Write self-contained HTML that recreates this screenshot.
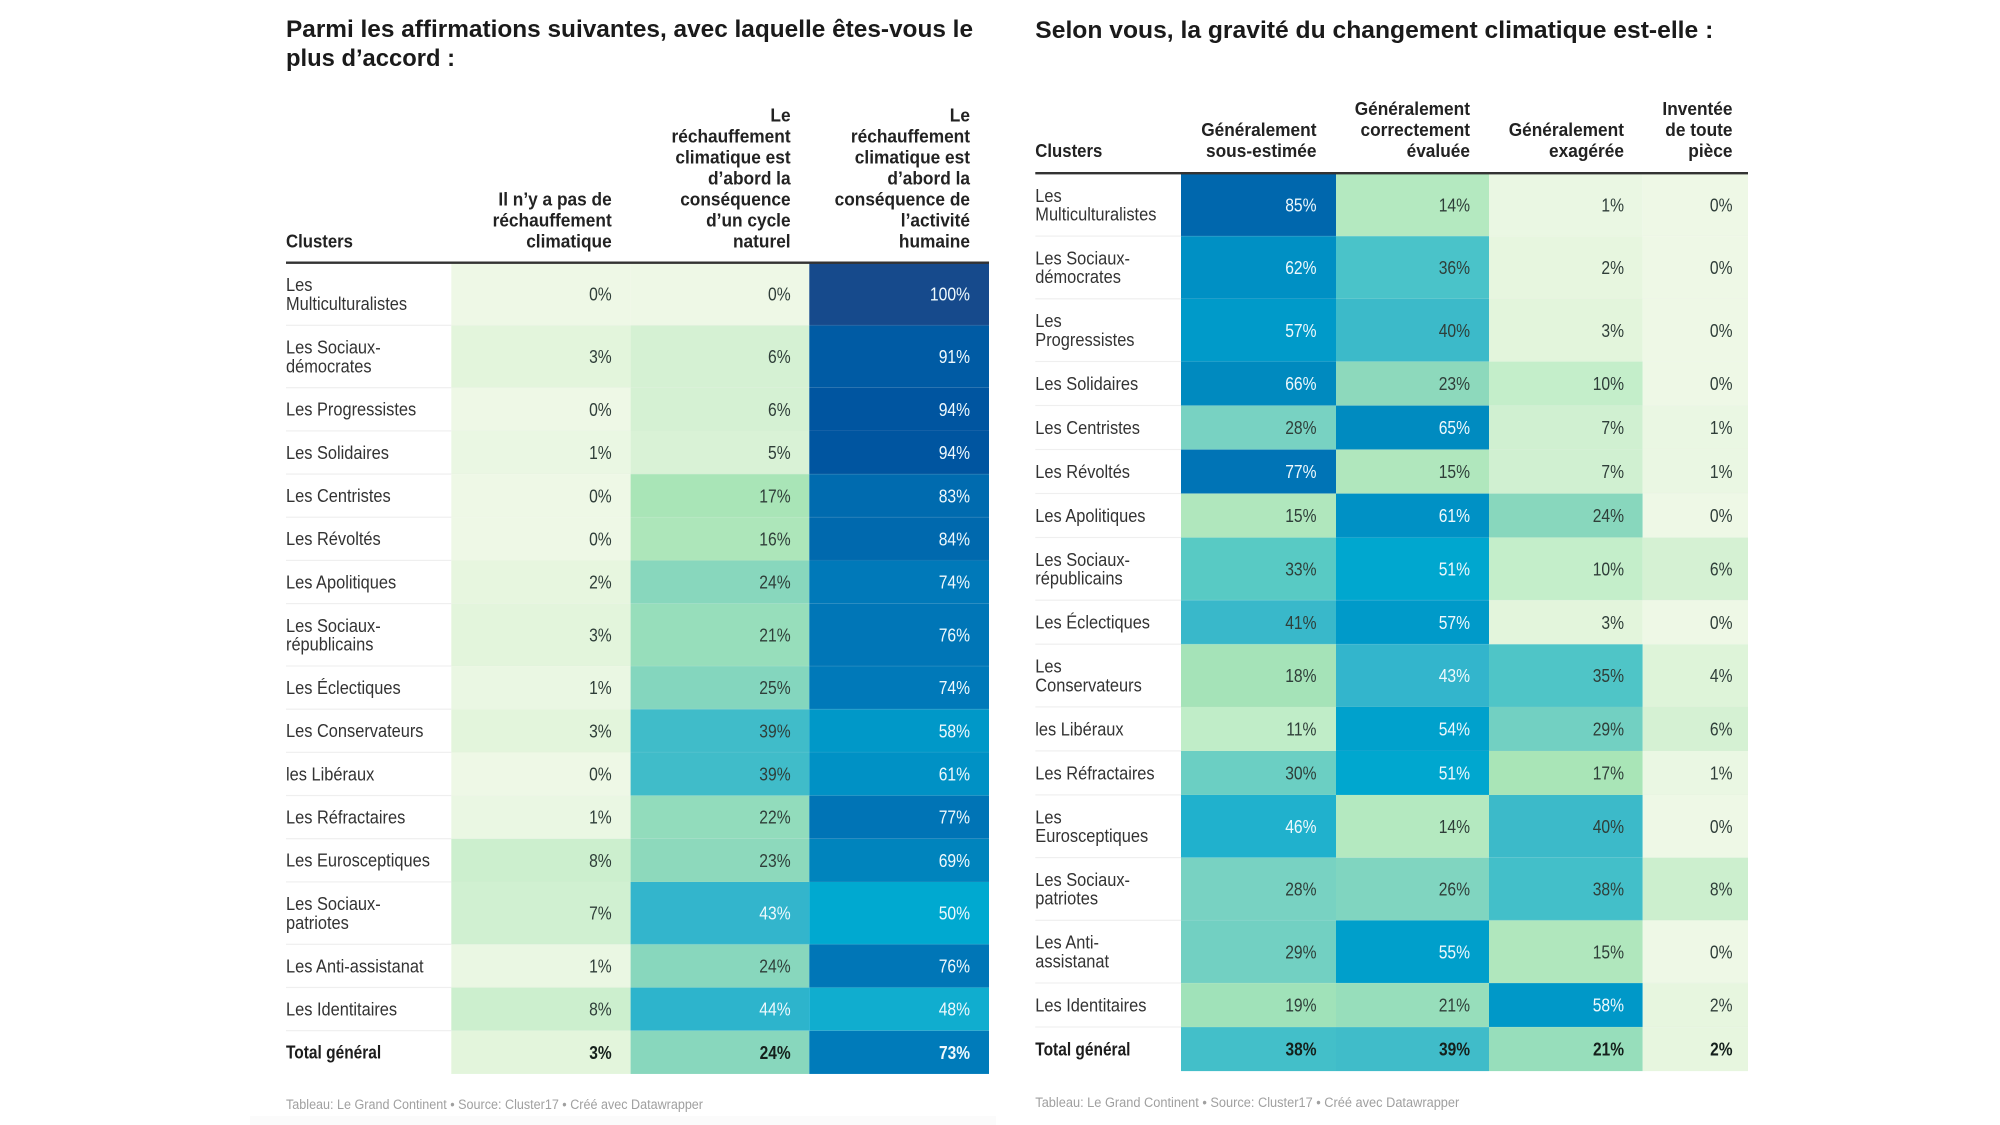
<!DOCTYPE html>
<html lang="fr">
<head>
<meta charset="utf-8">
<title>Changement climatique – clusters</title>
<style>
html,body{margin:0;padding:0;background:#fff;width:2000px;height:1125px;overflow:hidden}
svg{display:block}
text{font-family:"Liberation Sans",Arial,sans-serif}
</style>
</head>
<body>
<svg id="chart" xmlns="http://www.w3.org/2000/svg" width="2000" height="1125" viewBox="0 0 2000 1125">
<rect x="250" y="1116" width="746" height="9" fill="#fbfbfb"/>
</svg>
<script>
// ---- shared data ----
const clustersLeft = ["Les|Multiculturalistes","Les Sociaux-|démocrates","Les Progressistes","Les Solidaires","Les Centristes","Les Révoltés","Les Apolitiques","Les Sociaux-|républicains","Les Éclectiques","Les Conservateurs","les Libéraux","Les Réfractaires","Les Eurosceptiques","Les Sociaux-|patriotes","Les Anti-assistanat","Les Identitaires","Total général"];
const clustersRight = ["Les|Multiculturalistes","Les Sociaux-|démocrates","Les|Progressistes","Les Solidaires","Les Centristes","Les Révoltés","Les Apolitiques","Les Sociaux-|républicains","Les Éclectiques","Les|Conservateurs","les Libéraux","Les Réfractaires","Les|Eurosceptiques","Les Sociaux-|patriotes","Les Anti-|assistanat","Les Identitaires","Total général"];

// ---- left table ----
const titleLeft = ["Parmi les affirmations suivantes, avec laquelle êtes-vous le","plus d’accord :"];
const headersLeft = ["Il n’y a pas de|réchauffement|climatique","Le|réchauffement|climatique est|d’abord la|conséquence|d’un cycle|naturel","Le|réchauffement|climatique est|d’abord la|conséquence de|l’activité|humaine"];
const leftNoWarming = [0,3,0,1,0,0,2,3,1,3,0,1,8,7,1,8,3];
const leftNatural = [0,6,6,5,17,16,24,21,25,39,39,22,23,43,24,44,24];
const leftHuman = [100,91,94,94,83,84,74,76,74,58,61,77,69,50,76,48,73];

// ---- right table ----
const titleRight = ["Selon vous, la gravité du changement climatique est-elle :"];
const headersRight = ["Généralement|sous-estimée","Généralement|correctement|évaluée","Généralement|exagérée","Inventée|de toute|pièce"];
const rightUnder = [85,62,57,66,28,77,15,33,41,18,11,30,46,28,29,19,38];
const rightCorrect = [14,36,40,23,65,15,61,51,57,43,54,51,14,26,55,21,39];
const rightExagg = [1,2,3,10,7,7,24,10,3,35,29,17,40,38,15,58,21];
const rightInvented = [0,0,0,0,1,1,0,6,0,4,6,1,0,8,0,2,2];

const sourceLine = "Tableau: Le Grand Continent • Source: Cluster17 • Créé avec Datawrapper";

// colour ramp: value -> colour
const rampValues = [0,3,5,8,11,15,17,21,24,28,33,36,40,43,46,50,55,61,66,74,84,94,100];
const rampColors = ["#eef8e6","#e3f5dc","#d9f2d6","#ccefce","#c0edc8","#b0e7bd","#a9e5b7","#97debb","#88d7bd","#78d2c2","#58cac4","#4ac3c9","#3cbac9","#33b5cc","#20b1cd","#00a9d0","#009fcb","#0091c5","#008abf","#0079b9","#0069ae","#0055a0","#164a8c"];

const svg = document.getElementById('chart');
const NS = 'http://www.w3.org/2000/svg';

function hexRgb(h){return [1,3,5].map(i=>parseInt(h.substr(i,2),16));}
function colorFor(v){
  let i = 0;
  while(i < rampValues.length-2 && v > rampValues[i+1]) i++;
  const t = Math.max(0,Math.min(1,(v-rampValues[i])/(rampValues[i+1]-rampValues[i])));
  const a = hexRgb(rampColors[i]), b = hexRgb(rampColors[i+1]);
  return 'rgb('+a.map((c,k)=>Math.round(c+(b[k]-c)*t)).join(',')+')';
}
function textColorFor(v){return v>=43 ? '#eef9fd' : '#2f3e39';}

// squeezes the Liberation glyphs to the narrower width of the reference face
function addText(str,x,y,size,weight,fill,anchor,squeeze,fitWidth){
  const t = document.createElementNS(NS,'text');
  t.textContent = str;
  t.setAttribute('x',x);
  t.setAttribute('y',y);
  t.setAttribute('font-size',size);
  t.setAttribute('font-weight',weight);
  t.setAttribute('fill',fill);
  t.setAttribute('text-anchor',anchor);
  svg.appendChild(t);
  const w = fitWidth || t.getComputedTextLength()*squeeze;
  t.setAttribute('textLength',w.toFixed(1));
  t.setAttribute('lengthAdjust','spacingAndGlyphs');
  return t;
}

function drawTable(cfg){
  // titles
  cfg.title.forEach((line,i)=>{
    const t = addText(line,cfg.x0,cfg.titleY+i*29,24.5,700,'#1a1a1a','start',1,cfg.titleWidths[i]);
    
    
  });
  // header cells
  const hBase = cfg.lineY-cfg.headerGap;
  const hc = addText('Clusters',cfg.x0,hBase,18,700,'#222','start',.93);
  
  
  cfg.headers.forEach((h,c)=>{
    const lines = h.split('|');
    lines.forEach((ln,i)=>{
      const t = addText(ln,cfg.textX[c],hBase-(lines.length-1-i)*21,18,700,'#222','end',.96);
      
      
    });
  });
  // rows
  let y = cfg.lineY;
  const right = cfg.colX[cfg.colX.length-1];
  cfg.clusters.forEach((label,r)=>{
    const lines = label.split('|');
    const h = lines.length>1 ? cfg.rowTall : cfg.rowShort;
    const total = r===cfg.clusters.length-1;
    cfg.series.forEach((vals,c)=>{
      const v = vals[r];
      const cell = document.createElementNS(NS,'rect');
      cell.setAttribute('x',cfg.colX[c]);
      cell.setAttribute('y',y);
      cell.setAttribute('width',cfg.colX[c+1]-cfg.colX[c]);
      cell.setAttribute('height',h);
      cell.setAttribute('fill',colorFor(v));
      
      
      svg.appendChild(cell);
    });
    if(!total){
      const sep = document.createElementNS(NS,'rect');
      sep.setAttribute('x',cfg.x0);
      sep.setAttribute('y',y+h-.7);
      sep.setAttribute('width',cfg.colX[0]-cfg.x0);
      sep.setAttribute('height',1.2);
      sep.setAttribute('fill','#efefef');
      
      
      svg.appendChild(sep);
      const sepCells = document.createElementNS(NS,'rect');
      sepCells.setAttribute('x',cfg.colX[0]);
      sepCells.setAttribute('y',y+h-.7);
      sepCells.setAttribute('width',right-cfg.colX[0]);
      sepCells.setAttribute('height',1.2);
      sepCells.setAttribute('fill','#dddddd');
      sepCells.setAttribute('opacity','.1');
      
      
      svg.appendChild(sepCells);
    }
    const mid = y+h/2;
    lines.forEach((ln,i)=>{
      const by = mid+6.3+(i-(lines.length-1)/2)*18.7;
      const t = addText(ln,cfg.x0,by,18,total?700:400,total?'#1c1c1c':'#333','start',total?.86:.91);
      
      
    });
    cfg.series.forEach((vals,c)=>{
      const v = vals[r];
      const t = addText(v+'%',cfg.textX[c],mid+6.5,18,total?700:400,total&&v<43?'#15201c':textColorFor(v),'end',total?.86:.87);
      
      
    });
    y += h;
  });
  // header rule
  const rule = document.createElementNS(NS,'rect');
  rule.setAttribute('x',cfg.x0);
  rule.setAttribute('y',cfg.lineY-1.5);
  rule.setAttribute('width',right-cfg.x0);
  rule.setAttribute('height',2.4);
  rule.setAttribute('fill','#333');
  
  
  svg.appendChild(rule);
  const src = addText(sourceLine,cfg.x0,cfg.sourceY,13.5,400,'#a0a0a0','start',1,cfg.sourceW);
  
  
}

drawTable({
  x0:286,title:titleLeft,titleY:37,titleWidths:[687,169],
  headers:headersLeft,lineY:263,headerGap:15.5,rowTall:62.4,rowShort:43.18,
  colX:[451.3,630.6,809.3,989],textX:[611.7,790.6,970],
  clusters:clustersLeft,series:[leftNoWarming,leftNatural,leftHuman],
  sourceY:1109,sourceW:417
});
drawTable({
  x0:1035.3,title:titleRight,titleY:38,titleWidths:[678],
  headers:headersRight,lineY:173.5,headerGap:16.3,rowTall:62.7,rowShort:44,
  colX:[1181,1336,1489,1642.7,1748],textX:[1316.5,1470,1624,1732.5],
  clusters:clustersRight,series:[rightUnder,rightCorrect,rightExagg,rightInvented],
  sourceY:1107,sourceW:424
});
</script>
</body>
</html>
